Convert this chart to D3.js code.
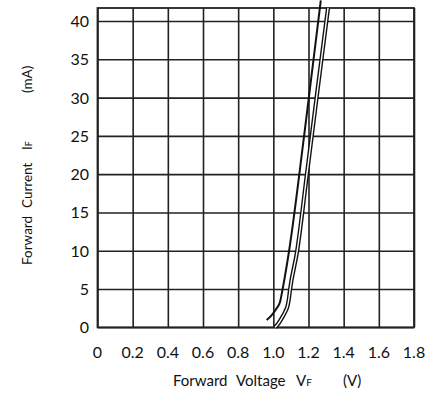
<!DOCTYPE html>
<html>
<head>
<meta charset="utf-8">
<script src="https://cdn.jsdelivr.net/npm/d3@7"></script>
<style>
  body { margin: 0; background: #fff; }
  text { font-family: Lato, "DejaVu Sans", sans-serif; fill: #111; }
  .grid line { stroke: #222; stroke-width: 1.6; }
  .grid .domain { display: none; }
</style>
</head>
<body>
<svg id="chart" width="433" height="401"></svg>
<script>
// ticks
var xTicks = [0, 0.2, 0.4, 0.6, 0.8, 1.0, 1.2, 1.4, 1.6, 1.8];
var yTicks = [0, 5, 10, 15, 20, 25, 30, 35, 40];

// curve 1 (single line): forward voltage (V) / forward current (mA)
var singleV = [0.962, 0.991, 1.019, 1.038, 1.048, 1.057, 1.089, 1.175, 1.270];
var singleI = [0.95, 1.6, 2.5, 3.3, 4.4, 5.5, 9.9, 25, 42.7];

// curve 2 (double line)
var doubleV = [1.010, 1.029, 1.048, 1.067, 1.082, 1.089, 1.095, 1.135, 1.191, 1.246, 1.311];
var doubleI = [0, 0.5, 1.2, 2.0, 2.9, 3.8, 4.9, 9.9, 20, 30, 41.7];

var svg = d3.select("#chart");

var x = d3.scaleLinear().domain([0, 1.8]).range([97.5, 414]);
var y = d3.scaleLinear().domain([0, 41.7]).range([327.3, 8]);

var fmt = function (d) { return d === 0 ? "0" : d3.format(".1f")(d); };

// vertical grid
svg.append("g")
  .attr("class", "grid")
  .attr("transform", "translate(0," + y(0) + ")")
  .call(d3.axisBottom(x).tickValues(xTicks).tickSize(-(y(0) - y(41.7))).tickFormat(""));

// horizontal grid
svg.append("g")
  .attr("class", "grid")
  .attr("transform", "translate(" + x(0) + ",0)")
  .call(d3.axisLeft(y).tickValues(yTicks).tickSize(-(x(1.8) - x(0))).tickFormat(""));

// frame
svg.append("rect")
  .attr("x", x(0)).attr("y", y(41.7))
  .attr("width", x(1.8) - x(0)).attr("height", y(0) - y(41.7))
  .attr("fill", "none").attr("stroke", "#222").attr("stroke-width", 1.8);

// tick labels
svg.append("g").selectAll("text")
  .data(xTicks).enter().append("text")
  .attr("x", function (d) { return x(d); })
  .attr("y", 358)
  .attr("text-anchor", "middle")
  .style("font-size", "16px")
  .text(fmt);

svg.append("g").selectAll("text")
  .data(yTicks).enter().append("text")
  .attr("x", 89)
  .attr("y", function (d) { return y(d) + 6; })
  .attr("text-anchor", "end")
  .style("font-size", "16px")
  .text(function (d) { return d; });

var line = d3.line()
  .x(function (d) { return x(d[0]); })
  .y(function (d) { return y(d[1]); })
  .curve(d3.curveMonotoneX);

var single = d3.zip(singleV, singleI);
var dbl = d3.zip(doubleV, doubleI);

svg.append("path")
  .datum(single)
  .attr("d", line)
  .attr("fill", "none")
  .attr("stroke", "#111")
  .attr("stroke-width", 2);

svg.append("path")
  .datum(dbl)
  .attr("d", line)
  .attr("fill", "none")
  .attr("stroke", "#111")
  .attr("stroke-width", 4.2);

svg.append("path")
  .datum(dbl)
  .attr("d", line)
  .attr("fill", "none")
  .attr("stroke", "#fff")
  .attr("stroke-width", 1.4);

// axis titles (words placed like the original's wide spacing)
var xt = svg.append("text")
  .attr("y", 386)
  .style("font-size", "15px");
xt.append("tspan").attr("x", 173).text("Forward");
xt.append("tspan").attr("x", 236).text("Voltage");
xt.append("tspan").attr("x", 296).text("V");
xt.append("tspan").style("font-size", "10px").text("F");
xt.append("tspan").attr("x", 343).text("(V)");

var yt = svg.append("text")
  .attr("transform", "translate(31.5,0) rotate(-90)")
  .style("font-size", "13.5px");
yt.append("tspan").attr("x", -265).text("Forward");
yt.append("tspan").attr("x", -208).text("Current");
yt.append("tspan").attr("x", -150).text("I");
yt.append("tspan").style("font-size", "9px").text("F");
yt.append("tspan").attr("x", -93).text("(mA)");
</script>
</body>
</html>
